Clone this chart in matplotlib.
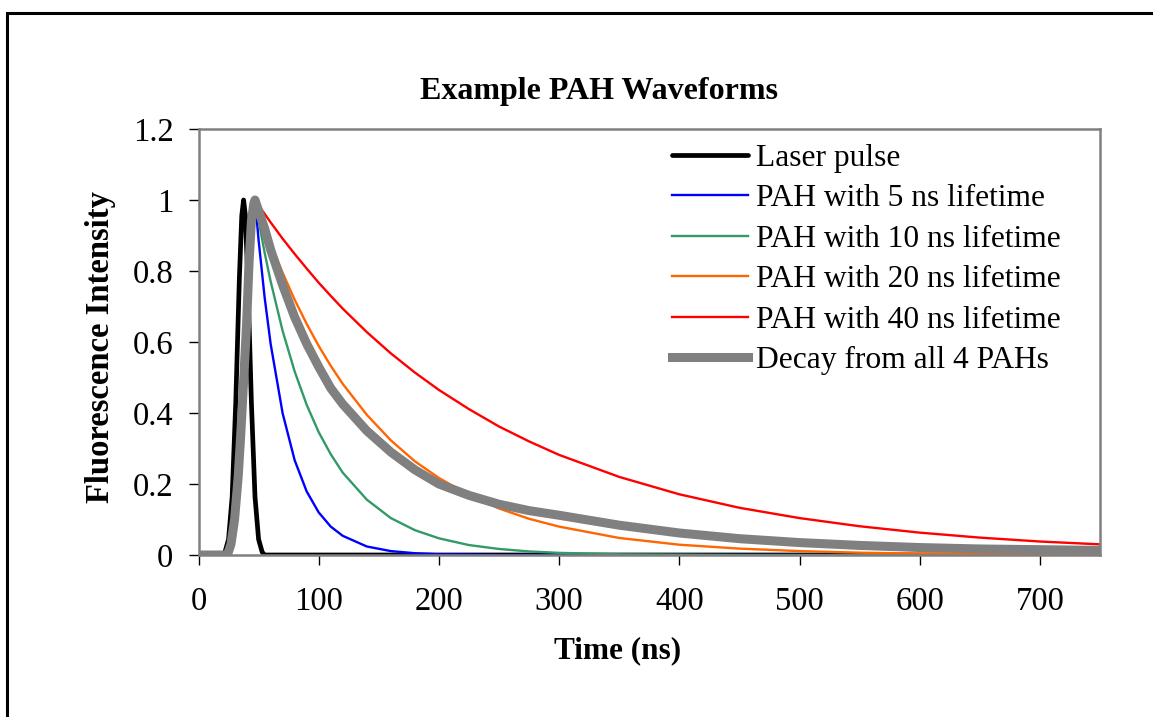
import matplotlib
matplotlib.use("Agg")
import matplotlib.pyplot as plt
from matplotlib.patches import Rectangle

plt.rcParams['font.family'] = ['Liberation Serif', 'DejaVu Serif']

# laser pulse (time in ns, intensity)
laser_t = [0, 20, 22, 25, 28, 31, 34, 36, 37.5, 39, 41, 44, 47, 50, 53, 55, 750]
laser_y = [0, 0, 0.008, 0.044, 0.164, 0.43, 0.78, 0.956, 1.0, 0.956, 0.78, 0.43, 0.164, 0.044, 0.008, 0, 0]

# common time grid for the decay curves
decay_t = [0, 24, 27, 30, 33, 35, 38, 40, 42, 44, 46, 47,
           50, 55, 60, 70, 80, 90, 100, 110, 120, 140, 160, 180, 200,
           225, 250, 275, 300, 350, 400, 450, 500, 550, 600, 650, 700, 750]

# rising edge shared by all the PAH curves (up to the peak)
rise = [0, 0, 0.03, 0.1, 0.22, 0.33, 0.52, 0.65, 0.82, 0.94, 0.99, 1.0]

pah5 = rise + [0.887, 0.726, 0.595, 0.399, 0.267, 0.179, 0.120, 0.080, 0.054, 0.024, 0.011, 0.005, 0.002,
               0.001, 0, 0, 0, 0, 0, 0, 0, 0, 0, 0, 0, 0]
pah10 = rise + [0.942, 0.852, 0.771, 0.631, 0.517, 0.423, 0.346, 0.284, 0.232, 0.156, 0.104, 0.070, 0.047,
                0.028, 0.017, 0.010, 0.006, 0.002, 0.001, 0, 0, 0, 0, 0, 0, 0]
pah20 = rise + [0.970, 0.923, 0.878, 0.795, 0.719, 0.651, 0.589, 0.533, 0.482, 0.395, 0.323, 0.264, 0.217,
                0.169, 0.131, 0.102, 0.080, 0.048, 0.029, 0.018, 0.011, 0.0065, 0.004, 0.0024, 0.0015, 0.0009]
pah40 = rise + [0.985, 0.961, 0.937, 0.891, 0.848, 0.807, 0.767, 0.730, 0.694, 0.628, 0.568, 0.514, 0.465,
                0.411, 0.362, 0.320, 0.282, 0.220, 0.171, 0.133, 0.104, 0.081, 0.063, 0.049, 0.038, 0.030]
all4 = rise + [0.97, 0.92, 0.86, 0.76, 0.67, 0.595, 0.53, 0.47, 0.425, 0.35, 0.29, 0.24, 0.20,
               0.168, 0.143, 0.125, 0.112, 0.084, 0.062, 0.046, 0.035, 0.027, 0.021, 0.017, 0.015, 0.013]

labels = ["Laser pulse", "PAH with 5 ns lifetime", "PAH with 10 ns lifetime",
          "PAH with 20 ns lifetime", "PAH with 40 ns lifetime", "Decay from all 4 PAHs"]

W, H = 1153, 717
fig = plt.figure(figsize=(W / 100, H / 100), dpi=100)
ax = fig.add_axes([198.5 / W, 1 - 555 / H, (1100 - 198.5) / W, (555 - 129) / H])

ax.plot(laser_t, laser_y, color="black", lw=3.4, label=labels[0], solid_capstyle="round")
ax.plot(decay_t, pah5, color="#0000FF", lw=1.7, label=labels[1])
ax.plot(decay_t, pah10, color="#339966", lw=1.7, label=labels[2])
ax.plot(decay_t, pah20, color="#FF6600", lw=1.7, label=labels[3])
ax.plot(decay_t, pah40, color="#FF0000", lw=1.7, label=labels[4])
ax.plot(decay_t, all4, color="#808080", lw=6.5, label=labels[5])

ax.set_xlim(0, 750)
ax.set_ylim(0, 1.2)
ax.set_xticks(range(0, 701, 100))
ax.set_yticks([0, 0.2, 0.4, 0.6, 0.8, 1.0, 1.2])
ax.set_yticklabels(["0", "0.2", "0.4", "0.6", "0.8", "1", "1.2"])
ax.tick_params(direction="out", length=7, width=1, colors="black", labelsize=23.5)
ax.tick_params(axis="x", pad=16)
ax.tick_params(axis="y", pad=11)
for s in ax.spines.values():
    s.set_color("#808080")
    s.set_linewidth(1.8)

leg = ax.legend(loc="upper left", bbox_to_anchor=(672 / W, 1 - 144 / H),
                bbox_transform=fig.transFigure, frameon=False, fontsize=22.7,
                handlelength=2.4, handletextpad=0.25, labelspacing=0.36,
                borderpad=0, borderaxespad=0)

fig.text(599 / W, 1 - 92 / H, "Example PAH Waveforms", ha="center", va="center",
         fontsize=23, fontweight="bold")
fig.text(618 / W, 1 - 651 / H, "Time (ns)", ha="center", va="center",
         fontsize=22.5, fontweight="bold")
fig.text(101 / W, 1 - 347 / H, "Fluorescence Intensity", ha="center", va="center",
         rotation=90, fontsize=23.5, fontweight="bold")

# outer chart frame (runs off the right and bottom edges)
fig.patches.append(Rectangle((6.5 / W, -0.05), 1.2, 1 - 12.5 / H + 0.05,
                             transform=fig.transFigure, fill=False,
                             edgecolor="black", lw=2.2))

fig.savefig("out.png", dpi=100)
